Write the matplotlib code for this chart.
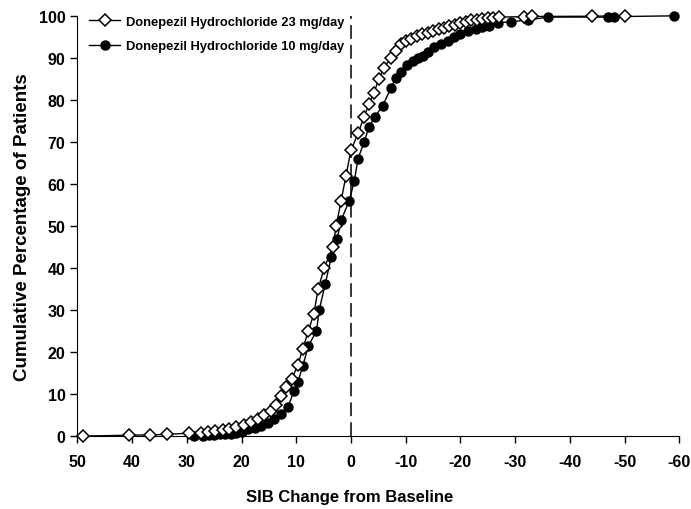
import matplotlib.pyplot as plt

# SIB change (x) and cumulative % of patients (y)
x_23mg = [49, 40.5, 36.7, 33.6, 29.6, 27.4, 26.1, 24.8, 23.4, 22.3,
          21, 19.5, 18.2, 17, 15.9, 14.6, 13.7, 12.8, 11.9, 10.8,
          9.7, 8.8, 7.8, 6.8, 6, 4.9, 3.3, 2.7, 1.8, 0.9,
          0, -1.3, -2.4, -3.3, -4.2, -5.1, -6, -7.3, -8.2, -9.1,
          -10, -11, -12, -13, -14, -15, -16, -17, -18, -19,
          -20, -21, -22, -23, -24, -25, -26, -27, -31.6, -33,
          -44, -50]
y_23mg = [0, 0.2, 0.3, 0.4, 0.7, 0.8, 1.0, 1.2, 1.4, 1.7,
          2.1, 2.6, 3.3, 4, 5, 6, 7.5, 9.5, 11.7, 13.6,
          17, 20.7, 25, 29, 35, 40, 45, 50, 56, 62,
          68, 72, 76, 79, 81.7, 85, 87.6, 90, 91.7, 93.3,
          94, 94.6, 95.1, 95.6, 96, 96.4, 96.8, 97.1, 97.5, 97.9,
          98.3, 98.6, 98.9, 99.1, 99.3, 99.5, 99.6, 99.7, 99.8, 99.85,
          99.9, 100]

x_10mg = [28.6, 27, 26, 25, 24, 23, 22, 21, 20,
          18.8, 17.5, 16.4, 15.2, 14, 12.8, 11.5, 10.4, 9.7, 8.8,
          7.8, 6.3, 5.8, 4.7, 3.6, 2.5, 1.8, 0.3, -0.6, -1.3,
          -2.4, -3.3, -4.4, -5.8, -7.3, -8.2, -9.1, -10.2, -11.3, -12.2,
          -13.1, -14, -15.1, -16.4, -17.7, -18.8, -20, -21.4, -22.8, -24,
          -25.2, -26.8, -29.2, -32.3, -36, -47, -48, -59]
y_10mg = [0, 0.1, 0.2, 0.3, 0.4, 0.5, 0.6, 0.8, 1.0,
          1.7, 2, 2.5, 3.2, 4, 5.2, 7, 10.7, 12.9, 16.7,
          21.4, 25, 30, 36.2, 42.6, 47, 51.4, 56, 60.7, 66,
          70, 73.6, 76, 78.6, 82.8, 85.2, 86.7, 88.3, 89.3, 90,
          90.5, 91.4, 92.6, 93.3, 94, 95, 95.7, 96.4, 96.9, 97.4,
          97.6, 98.3, 98.6, 99, 99.7, 99.7, 99.8, 100]

labels = ['Donepezil Hydrochloride 23 mg/day', 'Donepezil Hydrochloride 10 mg/day']
xticks = [50, 40, 30, 20, 10, 0, -10, -20, -30, -40, -50, -60]
yticks = [0, 10, 20, 30, 40, 50, 60, 70, 80, 90, 100]

plt.rcParams['font.family'] = ['Liberation Sans', 'DejaVu Sans']
plt.rcParams['axes.unicode_minus'] = False

fig = plt.figure(figsize=(6.91, 5.10), dpi=100)
ax = fig.add_axes([0.112, 0.143, 0.871, 0.824])

ax.axvline(0, color='black', lw=1.1, dashes=(9, 4), zorder=1)

ax.plot(x_10mg, y_10mg, color='black', lw=1, marker='o', ms=6.5,
        mfc='black', mec='black', label=labels[1], zorder=2, clip_on=False)
ax.plot(x_23mg, y_23mg, color='black', lw=1, marker='D', ms=6.5,
        mfc='white', mec='black', mew=1.1, label=labels[0], zorder=3, clip_on=False)

ax.set_xlim(50, -60)
ax.set_ylim(0, 100)
ax.set_xticks(xticks)
ax.set_yticks(yticks)
ax.tick_params(labelsize=11.5, length=5, width=1, direction='out')
ax.tick_params(axis='x', pad=8)
for t in ax.get_xticklabels() + ax.get_yticklabels():
    t.set_fontweight('bold')

ax.spines['top'].set_visible(False)
ax.spines['right'].set_visible(False)

ax.set_xlabel('SIB Change from Baseline', fontsize=12, fontweight='bold')
ax.xaxis.set_label_coords(0.453, -0.125)
ax.set_ylabel('Cumulative Percentage of Patients', fontsize=13.5, fontweight='bold', labelpad=6)

h, l = ax.get_legend_handles_labels()
ax.legend(h[::-1], l[::-1], loc='upper left', bbox_to_anchor=(0.0, 1.028), frameon=False,
          prop={'weight': 'bold', 'size': 9.3},
          handlelength=2.4, handletextpad=0.5, labelspacing=0.95)

fig.savefig('out.png', dpi=100)
